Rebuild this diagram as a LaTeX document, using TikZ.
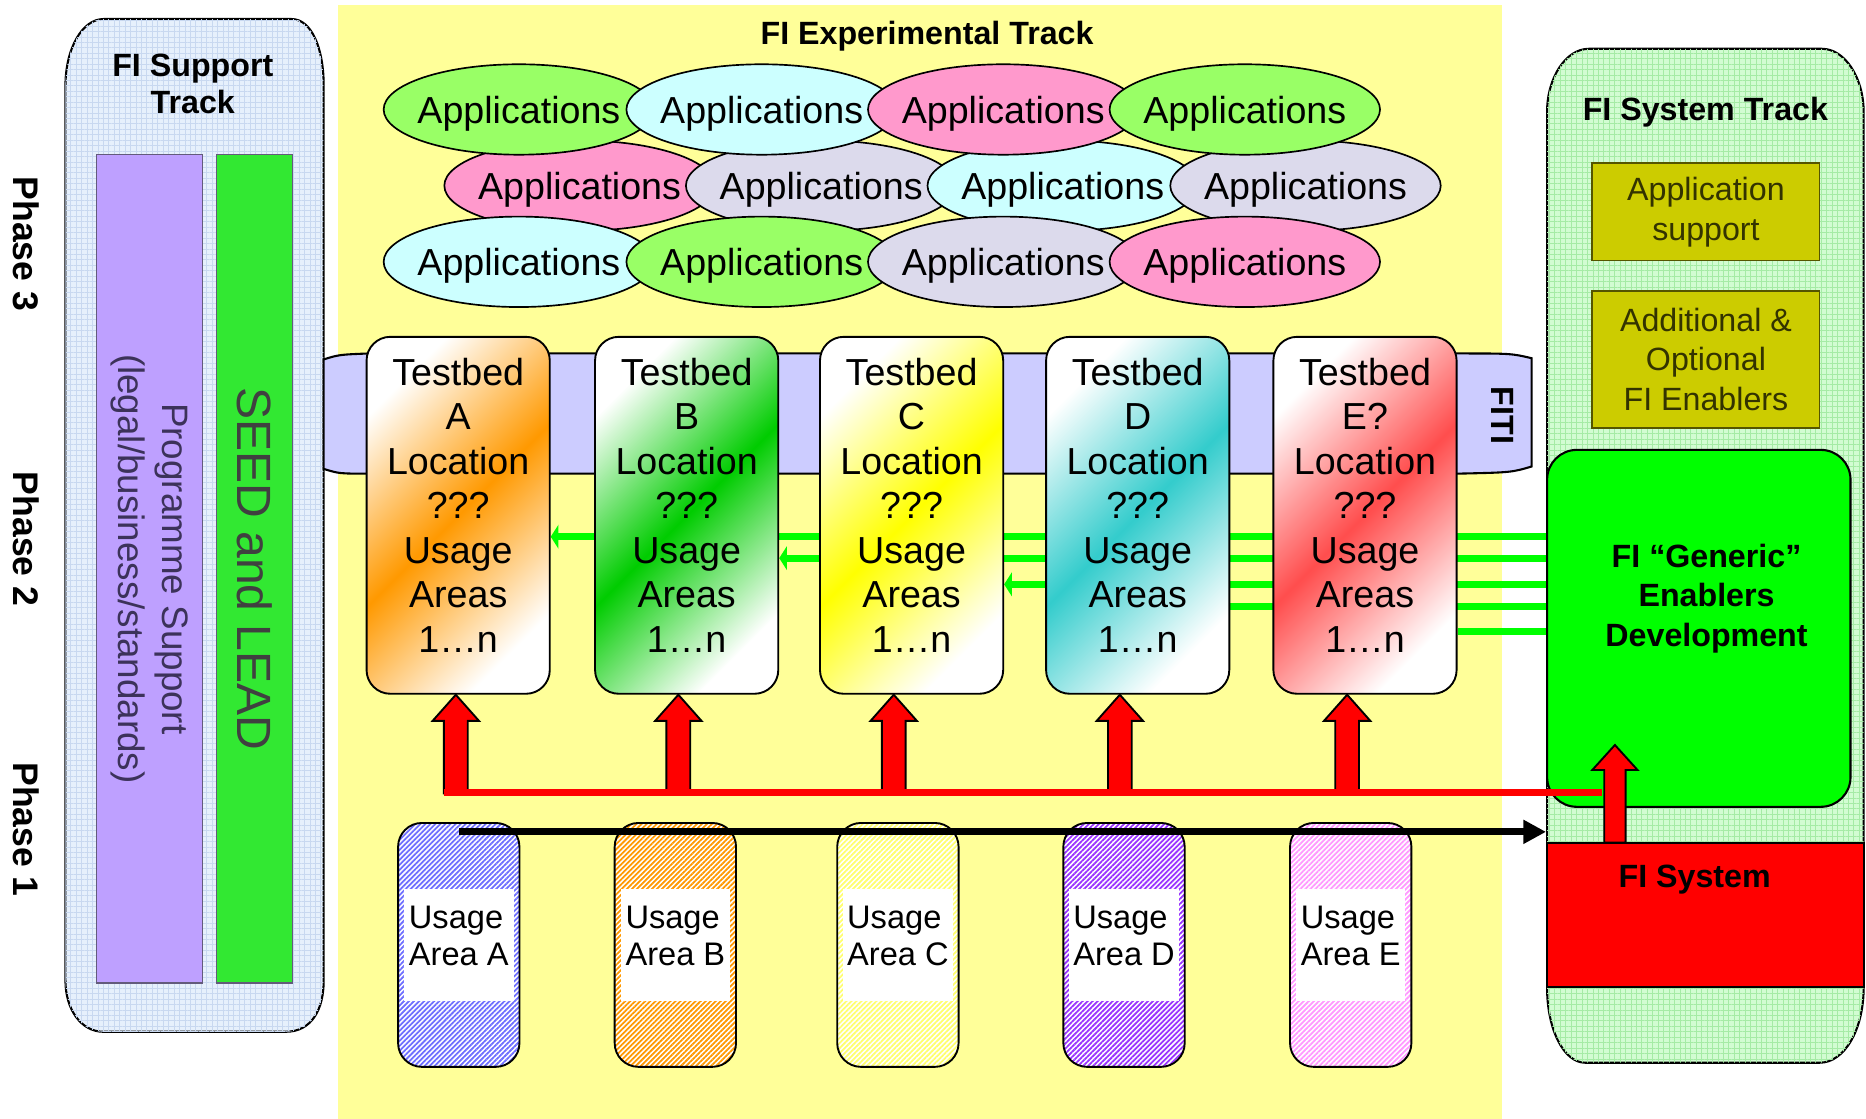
\documentclass[tikz,border=0pt]{standalone}
\usepackage{fontspec}
\setmainfont{Liberation Sans}
\usepackage{tikz}
\usetikzlibrary{shapes.geometric,arrows.meta,positioning,calc,patterns.meta,backgrounds}
\usepackage{xcolor}

\definecolor{bgyellow}{RGB}{255,255,153}
\definecolor{supportblue}{RGB}{230,240,252}
\definecolor{supportgrid}{RGB}{200,216,240}
\definecolor{systemgreen}{RGB}{210,252,210}
\definecolor{systemgrid}{RGB}{165,235,165}
\definecolor{progpurple}{RGB}{190,160,255}
\definecolor{progtext}{RGB}{60,50,90}
\definecolor{seedgreen}{RGB}{50,232,50}
\definecolor{fitiblue}{RGB}{204,204,255}
\definecolor{olivebox}{RGB}{204,204,0}
\definecolor{olivedark}{RGB}{85,85,0}
\definecolor{appgreen}{RGB}{153,255,102}
\definecolor{appcyan}{RGB}{204,255,255}
\definecolor{apppink}{RGB}{255,153,204}
\definecolor{appgray}{RGB}{220,218,236}
\definecolor{tborange}{RGB}{255,153,0}
\definecolor{tbgreen}{RGB}{0,204,0}
\definecolor{tbyellow}{RGB}{255,255,0}
\definecolor{tbteal}{RGB}{51,204,204}
\definecolor{tbred}{RGB}{255,77,77}
\definecolor{uablue}{RGB}{110,110,255}
\definecolor{uaorange}{RGB}{255,153,0}
\definecolor{uayellow}{RGB}{255,255,110}
\definecolor{uapurple}{RGB}{153,51,255}
\definecolor{uapink}{RGB}{255,153,255}

\tikzset{
  app/.style={ellipse, draw, line width=0.8pt, minimum height=1.52cm, inner xsep=-2.8pt, inner ysep=0pt, text height=17pt, text depth=3.8pt, font=\fontsize{18}{21}\selectfont},
  testbed/.style={draw, line width=0.9pt, rounded corners=0.4cm, minimum width=3.08cm, minimum height=6cm, inner sep=0pt, align=center, font=\fontsize{18}{21.3}\selectfont, text depth=9.6pt},
  usage/.style={draw, line width=0.9pt, rounded corners=0.4cm, minimum width=2.04cm, minimum height=4.1cm, preaction={fill=white}, pattern={Lines[angle=45,distance=1.7pt,line width=0.85pt]}},
  usagelbl/.style={fill=white, minimum width=1.84cm, minimum height=1.88cm, inner sep=0pt, align=left, font=\fontsize{15.6}{17.6}\selectfont, text depth=8.5pt},
  tracktitle/.style={font=\fontsize{15.4}{17.6}\selectfont\bfseries, align=center, inner sep=0pt},
  phaselbl/.style={font=\fontsize{17}{20}\selectfont\bfseries, rotate=-90},
  panel/.style={line width=1pt, postaction={pattern={Hatch[angle=0,distance=2.6pt,line width=0.3pt]}}},
  sidebar/.style={draw=progtext!80, line width=0.6pt, rotate=-90, minimum width=13.92cm, inner sep=0pt, align=center},
  sysbox/.style={draw=olivedark, fill=olivebox, line width=0.8pt, minimum width=3.82cm, align=center, text=olivedark!60!black, font=\fontsize{15.4}{19}\selectfont},
  greenline/.style={draw=green, line width=3.4pt},
  greenarrow/.style={greenline, -{Triangle[length=0.13cm,width=0.4cm]}},
  redblock/.style={draw, fill=red, line width=0.9pt},
  blackarrow/.style={line width=3.4pt, -{Triangle[length=0.38cm,width=0.38cm]}}
}

\begin{document}
\begin{tikzpicture}[x=0.02cm, y=-0.02cm]
\useasboundingbox (0,0) rectangle (1568,940);
% experimental track
\begin{scope}[on background layer]
\fill[bgyellow] (284,4) rectangle (1262,940);
\end{scope}
\node[tracktitle] (exptitle) at (779,30.5) {FI Experimental Track};

% phases
\node[phaselbl] (ph3) at (22,205) {Phase 3};
\node[phaselbl] (ph2) at (22,453) {Phase 2};
\node[phaselbl] (ph1) at (22,697) {Phase 1};

% support track
\draw[panel, fill=supportblue, pattern color=supportgrid] (55,72) .. controls (55,41) and (69,16) .. (87,16) -- (245,16) .. controls (262,16) and (272,41) .. (272,72) -- (272,824) .. controls (272,848) and (262,867) .. (240,867) -- (87,867) .. controls (68,867) and (55,848) .. (55,824) -- cycle;
\node[tracktitle] (suptitle) at (162,70.5) {FI Support\\Track};
\node[sidebar, fill=progpurple, minimum height=1.78cm, text=progtext, font=\fontsize{17.6}{21}\selectfont] (prog) at (125.5,478) {Programme Support\\(legal/business/standards)};
\node[sidebar, fill=seedgreen, minimum height=1.28cm, text=black!75, font=\fontsize{23}{27}\selectfont] (seed) at (214,478) {SEED and LEAD};

% system track
\draw[panel, fill=systemgreen, pattern color=systemgrid] (1300,94) .. controls (1300,65) and (1316,41) .. (1335,41) -- (1531,41) .. controls (1550,41) and (1566,65) .. (1566,94) -- (1566,830) .. controls (1566,865) and (1550,893) .. (1529,893) -- (1332,893) .. controls (1314,893) and (1300,865) .. (1300,830) -- cycle;
\node[tracktitle] (systitle) at (1433,94.5) {FI System Track};
\node[sysbox, minimum height=1.64cm] (appsup) at (1433.5,178) {Application\\support};
\node[sysbox, minimum height=2.3cm] (addopt) at (1433.5,302) {Additional \&\\Optional\\FI Enablers};
\node[draw, fill=green, line width=1pt, rounded corners=0.5cm, minimum width=5.1cm, minimum height=6cm] (gen) at (1427.5,528) {};
\node[tracktitle, font=\fontsize{15.4}{18.7}\selectfont\bfseries] (gentxt) at (1434,503) {FI “Generic”\\Enablers\\Development};
\node[draw, fill=red, line width=1pt, minimum width=5.32cm, minimum height=2.42cm, inner sep=0pt] (sys) at (1433,768.5) {};
\node[tracktitle] (systxt) at (1424,739.5) {FI System};

% applications, middle row lies underneath
\foreach \x/\c [count=\i] in {487/apppink, 690/appgray, 893/appcyan, 1097/appgray}
  \node[app, fill=\c] (appb\i) at (\x,156) {Applications};
\foreach \x/\c [count=\i] in {436/appgreen, 640/appcyan, 843/apppink, 1046/appgreen}
  \node[app, fill=\c] (appa\i) at (\x,92) {Applications};
\foreach \x/\c [count=\i] in {436/appcyan, 640/appgreen, 843/appgray, 1046/apppink}
  \node[app, fill=\c] (appc\i) at (\x,220) {Applications};

% FITI band
\draw[fill=fitiblue, line width=1pt] (272,302) .. controls (285,298) .. (310,297) -- (1225,297) .. controls (1270,297) .. (1287,301) -- (1287,392) .. controls (1270,397) .. (1225,398) -- (310,398) .. controls (285,398) .. (272,394) -- cycle;
\node[font=\fontsize{15.4}{18}\selectfont\bfseries, rotate=-90] (fiti) at (1263,349) {FITI};

% testbeds
\foreach \n/\lbl/\x/\c in {A/A/385/tborange, B/B/577/tbgreen, C/C/766/tbyellow, D/D/956/tbteal, E/E?/1147/tbred}
  \node[testbed, left color=white, right color=white, middle color=\c, shading angle=45] (tb\n) at (\x,433) {Testbed\\\lbl\\Location\\???\\Usage\\Areas\\1…n};

% enablers to testbeds
\begin{scope}[on background layer]
\foreach \n/\y in {A/451, B/469, C/491}
  \draw[greenarrow] (gen.west |- 0,\y) -- (tb\n.east |- 0,\y);
\foreach \n/\y in {D/510, E/531}
  \draw[greenline] (gen.west |- 0,\y) -- (tb\n.east |- 0,\y);
\end{scope}

% red feeds
\foreach \n/\dx in {A/-2, B/-7, C/-15, D/-15, E/-15} {
  \coordinate (tip\n) at ($(tb\n.south)+(\dx,0)$);
  \draw[redblock] (tip\n) ++(-10,83) -- ++(0,-61) -- ++(-9.5,0) -- (tip\n) -- ++(19.5,22) -- ++(-9.5,0) -- ++(0,61) -- cycle;
}
\coordinate (redL) at (373,666);
\coordinate (redR) at (1346,666);
\draw[red, line width=3.4pt] (redL) -- (redR);
\coordinate (systip) at (1357,626);
\draw[redblock] (systip) ++(-9,82) -- ++(0,-61) -- ++(-10,0) -- (systip) -- ++(19,21) -- ++(-10,0) -- ++(0,61) -- cycle;

% usage areas
\foreach \n/\x/\c in {A/385.5/uablue, B/567.5/uaorange, C/754.5/uayellow, D/944.5/uapurple, E/1135/uapink} {
  \node[usage, pattern color=\c] (ua\n) at (\x,794) {};
  \node[usagelbl] (lbl\n) at (ua\n) {Usage\\Area \n};
}
\coordinate (blackstart) at (386,699);
\draw[blackarrow] (blackstart) -- (blackstart -| sys.west);
\end{tikzpicture}
\end{document}
